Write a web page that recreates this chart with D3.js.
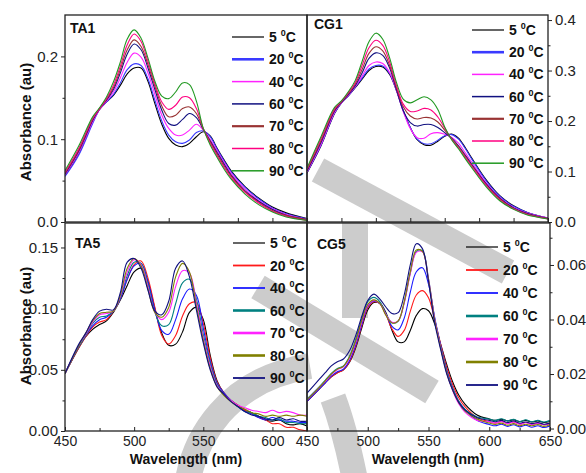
<!DOCTYPE html>
<html>
<head>
<script src="https://cdn.jsdelivr.net/npm/d3@7"></script>
<style>
  body { margin: 0; background: #fff; }
  svg { display: block; font-family: "Liberation Sans", Arial, sans-serif; }
</style>
</head>
<body>
<div id="container"></div>
<script>
// ---------- data ----------
const temps = ["5", "20", "40", "60", "70", "80", "90"];

const wlTop = [450,460,470,475,480,485,490,495,500,505,510,515,520,525,530,535,540,545,550,555,560,565,570,580,590,600,610,625];

const ta1Values = [
  [0.056,0.083,0.121,0.136,0.145,0.153,0.165,0.179,0.186,0.186,0.170,0.143,0.118,0.101,0.093,0.091,0.095,0.103,0.109,0.104,0.089,0.075,0.062,0.043,0.029,0.018,0.011,0.004],
  [0.055,0.081,0.119,0.136,0.145,0.154,0.168,0.184,0.191,0.189,0.173,0.147,0.122,0.105,0.097,0.095,0.099,0.108,0.110,0.103,0.088,0.074,0.061,0.042,0.028,0.017,0.010,0.004],
  [0.057,0.084,0.121,0.136,0.146,0.157,0.174,0.193,0.204,0.199,0.180,0.154,0.129,0.113,0.105,0.105,0.111,0.118,0.111,0.100,0.086,0.072,0.059,0.040,0.026,0.016,0.009,0.003],
  [0.058,0.086,0.123,0.137,0.147,0.160,0.180,0.203,0.215,0.208,0.186,0.160,0.135,0.119,0.117,0.124,0.131,0.126,0.112,0.098,0.084,0.070,0.057,0.038,0.025,0.015,0.008,0.003],
  [0.059,0.087,0.124,0.137,0.148,0.162,0.184,0.208,0.220,0.212,0.190,0.164,0.140,0.127,0.129,0.137,0.139,0.131,0.112,0.097,0.082,0.068,0.056,0.037,0.024,0.014,0.008,0.003],
  [0.060,0.089,0.125,0.137,0.149,0.165,0.188,0.214,0.227,0.218,0.194,0.167,0.145,0.136,0.141,0.151,0.150,0.137,0.113,0.095,0.080,0.066,0.054,0.036,0.023,0.013,0.007,0.002],
  [0.062,0.092,0.127,0.138,0.151,0.169,0.193,0.221,0.232,0.222,0.198,0.170,0.152,0.149,0.157,0.168,0.166,0.146,0.113,0.093,0.078,0.064,0.052,0.034,0.021,0.012,0.006,0.002]
];

const cg1Values = [
  [0.097,0.150,0.215,0.236,0.250,0.266,0.283,0.300,0.308,0.307,0.292,0.260,0.220,0.187,0.163,0.153,0.152,0.160,0.170,0.174,0.166,0.147,0.125,0.084,0.052,0.032,0.019,0.008],
  [0.098,0.151,0.216,0.236,0.250,0.267,0.285,0.303,0.310,0.309,0.294,0.261,0.220,0.187,0.164,0.155,0.155,0.162,0.171,0.173,0.164,0.145,0.123,0.082,0.051,0.031,0.019,0.008],
  [0.099,0.153,0.217,0.236,0.251,0.268,0.289,0.310,0.317,0.314,0.296,0.260,0.218,0.185,0.167,0.166,0.175,0.177,0.174,0.168,0.156,0.137,0.117,0.078,0.048,0.029,0.018,0.008],
  [0.101,0.157,0.220,0.237,0.252,0.270,0.295,0.324,0.335,0.330,0.305,0.262,0.220,0.197,0.190,0.193,0.193,0.187,0.177,0.166,0.151,0.132,0.113,0.076,0.047,0.028,0.017,0.007],
  [0.103,0.160,0.222,0.238,0.254,0.273,0.302,0.334,0.347,0.339,0.310,0.266,0.228,0.210,0.204,0.207,0.206,0.198,0.182,0.165,0.149,0.130,0.111,0.074,0.046,0.027,0.016,0.007],
  [0.105,0.164,0.224,0.239,0.256,0.276,0.310,0.345,0.360,0.350,0.317,0.270,0.233,0.219,0.220,0.225,0.222,0.208,0.186,0.164,0.147,0.128,0.109,0.073,0.044,0.026,0.015,0.006],
  [0.107,0.168,0.227,0.240,0.258,0.280,0.318,0.357,0.374,0.362,0.325,0.276,0.243,0.236,0.242,0.248,0.242,0.223,0.188,0.163,0.145,0.125,0.106,0.070,0.042,0.025,0.014,0.006]
];

const wlTA5 = [450,460,465,470,475,480,485,490,495,500,505,510,515,520,525,530,535,540,545,550,555,560,565,570,575,580,585,590,595,600,605,610,615,620,625];

const ta5Values = [
  [0.047,0.068,0.077,0.083,0.087,0.090,0.097,0.107,0.119,0.130,0.133,0.122,0.100,0.080,0.070,0.071,0.081,0.097,0.101,0.091,0.062,0.041,0.031,0.025,0.021,0.017,0.015,0.012,0.009,0.008,0.009,0.006,0.005,0.006,0.004],
  [0.047,0.068,0.077,0.085,0.089,0.091,0.098,0.108,0.124,0.136,0.139,0.125,0.101,0.078,0.071,0.078,0.094,0.104,0.105,0.088,0.060,0.040,0.031,0.025,0.021,0.017,0.014,0.011,0.009,0.006,0.006,0.003,0.003,0.001,0.000],
  [0.047,0.069,0.078,0.086,0.091,0.093,0.098,0.108,0.124,0.135,0.137,0.122,0.099,0.082,0.079,0.091,0.108,0.116,0.111,0.084,0.057,0.039,0.031,0.025,0.020,0.016,0.014,0.011,0.009,0.011,0.009,0.008,0.008,0.007,0.007],
  [0.047,0.069,0.078,0.088,0.093,0.094,0.098,0.109,0.127,0.138,0.137,0.120,0.097,0.086,0.087,0.104,0.121,0.124,0.108,0.079,0.055,0.038,0.030,0.025,0.020,0.016,0.015,0.012,0.011,0.009,0.010,0.007,0.007,0.006,0.006],
  [0.047,0.070,0.079,0.089,0.095,0.096,0.098,0.110,0.130,0.140,0.136,0.118,0.097,0.091,0.097,0.118,0.131,0.129,0.105,0.076,0.053,0.037,0.030,0.025,0.021,0.019,0.017,0.016,0.015,0.017,0.015,0.016,0.015,0.013,0.013],
  [0.047,0.070,0.080,0.090,0.096,0.097,0.098,0.111,0.133,0.141,0.135,0.116,0.097,0.093,0.101,0.126,0.137,0.130,0.102,0.074,0.051,0.036,0.029,0.024,0.020,0.018,0.015,0.014,0.012,0.013,0.012,0.013,0.012,0.013,0.012],
  [0.047,0.071,0.080,0.091,0.098,0.0995,0.099,0.113,0.138,0.141,0.133,0.115,0.098,0.095,0.106,0.133,0.139,0.126,0.099,0.072,0.050,0.036,0.030,0.024,0.020,0.016,0.013,0.012,0.010,0.009,0.011,0.009,0.010,0.008,0.008]
];

const wlCG5 = [450,460,465,470,475,480,485,490,495,500,505,510,515,520,525,530,535,540,545,550,555,560,565,570,575,580,590,600,605,610,615,620,625,630,635,640,645,650];

const cg5Values = [
  [0.0100,0.0145,0.0168,0.0190,0.0205,0.0215,0.0243,0.0295,0.0368,0.0435,0.0462,0.0460,0.0425,0.0360,0.0318,0.0318,0.0360,0.0415,0.0440,0.0432,0.0385,0.0310,0.0235,0.0170,0.0122,0.0090,0.0050,0.0035,0.0030,0.0034,0.0028,0.0032,0.0026,0.0030,0.0024,0.0028,0.0022,0.0026],
  [0.0100,0.0145,0.0168,0.0190,0.0205,0.0215,0.0245,0.0300,0.0375,0.0442,0.0465,0.0458,0.0418,0.0365,0.0338,0.0360,0.0430,0.0490,0.0506,0.0480,0.0400,0.0310,0.0225,0.0160,0.0112,0.0080,0.0040,0.0025,0.0020,0.0026,0.0018,0.0024,0.0016,0.0022,0.0016,0.0020,0.0014,0.0018],
  [0.0100,0.0145,0.0168,0.0192,0.0208,0.0218,0.0250,0.0305,0.0380,0.0448,0.0468,0.0458,0.0420,0.0375,0.0362,0.0405,0.0500,0.0575,0.0590,0.0530,0.0410,0.0305,0.0215,0.0148,0.0100,0.0070,0.0030,0.0015,0.0010,0.0016,0.0008,0.0014,0.0006,0.0012,0.0005,0.0010,0.0004,0.0010],
  [0.0108,0.0153,0.0177,0.0202,0.0220,0.0230,0.0265,0.0325,0.0400,0.0465,0.0481,0.0465,0.0420,0.0388,0.0393,0.0462,0.0570,0.0650,0.0652,0.0550,0.0405,0.0300,0.0210,0.0145,0.0098,0.0070,0.0042,0.0035,0.0030,0.0036,0.0028,0.0034,0.0026,0.0032,0.0025,0.0030,0.0024,0.0030],
  [0.0105,0.0150,0.0173,0.0198,0.0216,0.0226,0.0258,0.0315,0.0390,0.0452,0.0470,0.0458,0.0418,0.0390,0.0395,0.0460,0.0568,0.0646,0.0648,0.0548,0.0405,0.0298,0.0205,0.0138,0.0090,0.0060,0.0030,0.0025,0.0020,0.0026,0.0018,0.0024,0.0016,0.0022,0.0015,0.0020,0.0014,0.0018],
  [0.0105,0.0150,0.0175,0.0200,0.0218,0.0228,0.0262,0.0320,0.0395,0.0455,0.0472,0.0458,0.0415,0.0387,0.0395,0.0465,0.0575,0.0655,0.0650,0.0545,0.0400,0.0295,0.0205,0.0140,0.0095,0.0065,0.0035,0.0020,0.0015,0.0020,0.0012,0.0018,0.0010,0.0016,0.0010,0.0015,0.0008,0.0014],
  [0.0130,0.0180,0.0205,0.0230,0.0245,0.0255,0.0285,0.0340,0.0410,0.0470,0.0493,0.0475,0.0445,0.0422,0.0425,0.0490,0.0600,0.0678,0.0660,0.0540,0.0390,0.0290,0.0200,0.0140,0.0095,0.0068,0.0040,0.0030,0.0025,0.0030,0.0022,0.0028,0.0020,0.0024,0.0018,0.0022,0.0016,0.0020]
];

// ---------- styles ----------
const colorsTop = ["#000000", "#3a3aff", "#ff22ff", "#101080", "#993333", "#ff0080", "#229922"];
const colorsBottom = ["#000000", "#ff1a1a", "#1a1aff", "#008080", "#ff22ff", "#808000", "#101080"];
const legWTop = [1.2, 2.6, 1.5, 1.5, 2.2, 1.5, 1.5];
const legWBottom = [1.2, 1.8, 1.8, 2.6, 2.6, 2.6, 1.8];

const width = 586, height = 473;
const svg = d3.select("#container").append("svg").attr("width", width).attr("height", height);

// ---------- watermark (light grey strokes behind the plot) ----------
const wm = svg.append("g").attr("fill", "none").attr("stroke", "#cccccc").attr("stroke-width", 26);
wm.append("path").attr("d", "M318,170 L508,272");
wm.append("path").attr("d", "M258,287 L432,392");
wm.append("path").attr("d", "M355,222 L355,318");
wm.append("path").attr("d", "M188,480 C195,440 225,380 310,366");
wm.append("path").attr("d", "M333,398 Q345,430 355,480");

// ---------- panels ----------
const panels = [
  { name: "TA1", wl: wlTop, vals: ta1Values, colors: colorsTop, legW: legWTop,
    x0: 65, x1: 307, y0: 15, y1: 222, xdom: [450, 625], ydom: [0, 0.25],
    side: "left", yMajor: [0, 0.1, 0.2], yMinor: [0.05, 0.15], yFmt: ".1f",
    xMajor: [], xAll: [450, 475, 500, 525, 550, 575, 600, 625],
    lab: [70, 33], leg: [232, 37, 22.3] },
  { name: "CG1", wl: wlTop, vals: cg1Values, colors: colorsTop, legW: legWTop,
    x0: 307, x1: 548, y0: 15, y1: 222, xdom: [450, 625], ydom: [0, 0.41],
    side: "right", yMajor: [0, 0.1, 0.2, 0.3, 0.4], yMinor: [0.05, 0.15, 0.25, 0.35], yFmt: ".1f",
    xMajor: [], xAll: [450, 475, 500, 525, 550, 575, 600, 625],
    lab: [314, 29], leg: [472, 30, 22.2] },
  { name: "TA5", wl: wlTA5, vals: ta5Values, colors: colorsBottom, legW: legWBottom,
    x0: 65, x1: 307, y0: 223, y1: 431, xdom: [450, 625], ydom: [0, 0.17],
    side: "left", yMajor: [0, 0.05, 0.1, 0.15], yMinor: [0.025, 0.075, 0.125], yFmt: ".2f",
    xMajor: [450, 500, 550, 600], xAll: [450, 475, 500, 525, 550, 575, 600, 625],
    lab: [75, 248], leg: [233, 243, 22.5] },
  { name: "CG5", wl: wlCG5, vals: cg5Values, colors: colorsBottom, legW: legWBottom,
    x0: 307, x1: 550, y0: 223, y1: 431, xdom: [450, 650], ydom: [-0.0009, 0.0754],
    side: "right", yMajor: [0, 0.02, 0.04, 0.06], yMinor: [0.01, 0.03, 0.05, 0.07], yFmt: ".2f",
    xMajor: [450, 500, 550, 600, 650], xAll: [450, 475, 500, 525, 550, 575, 600, 625, 650],
    lab: [317, 249], leg: [466, 247, 23] }
];

panels.forEach(function(p, i) {
  const x = d3.scaleLinear().domain(p.xdom).range([p.x0, p.x1]);
  const y = d3.scaleLinear().domain(p.ydom).range([p.y1, p.y0]);
  const g = svg.append("g");

  g.append("clipPath").attr("id", "clip" + i)
    .append("rect").attr("x", p.x0).attr("y", p.y0).attr("width", p.x1 - p.x0).attr("height", p.y1 - p.y0);

  // curves
  const line = d3.line().curve(d3.curveCatmullRom.alpha(0.5));
  g.append("g").attr("clip-path", "url(#clip" + i + ")")
    .selectAll("path").data(p.vals).enter().append("path")
    .attr("fill", "none")
    .attr("stroke", (d, k) => p.colors[k])
    .attr("stroke-width", 1.1)
    .attr("d", d => line(d.map((v, j) => [x(p.wl[j]), y(v)])));

  // frame
  g.append("rect").attr("x", p.x0).attr("y", p.y0).attr("width", p.x1 - p.x0).attr("height", p.y1 - p.y0)
    .attr("fill", "none").attr("stroke", "#222").attr("stroke-width", 1.3);

  // x axis: inward ticks
  const xMinor = p.xAll.filter(v => p.xMajor.indexOf(v) < 0);
  const xa = g.append("g").attr("transform", "translate(0," + p.y1 + ")")
    .call(d3.axisBottom(x).tickValues(p.xMajor.length ? p.xMajor : p.xAll).tickSizeInner(-4).tickSizeOuter(0).tickPadding(5)
      .tickFormat(p.xMajor.length ? d3.format("d") : ""));
  const xm = g.append("g").attr("transform", "translate(0," + p.y1 + ")")
    .call(d3.axisBottom(x).tickValues(p.xMajor.length ? xMinor : []).tickSizeInner(-3).tickSizeOuter(0).tickFormat(""));
  [xa, xm].forEach(a => {
    a.select(".domain").remove();
    a.selectAll("line").attr("stroke", "#222");
    a.selectAll("text").attr("font-size", 14).attr("fill", "#222").attr("font-family", "Liberation Sans, Arial, sans-serif");
  });

  // y axis: outward ticks
  const axisFn = p.side === "left" ? d3.axisLeft : d3.axisRight;
  const ax = p.side === "left" ? p.x0 : p.x1;
  const ya = g.append("g").attr("transform", "translate(" + ax + ",0)")
    .call(axisFn(y).tickValues(p.yMajor).tickSizeInner(4).tickSizeOuter(0).tickPadding(3).tickFormat(d3.format(p.yFmt)));
  const ym = g.append("g").attr("transform", "translate(" + ax + ",0)")
    .call(axisFn(y).tickValues(p.yMinor).tickSizeInner(2.5).tickSizeOuter(0).tickFormat(""));
  [ya, ym].forEach(a => {
    a.select(".domain").remove();
    a.selectAll("line").attr("stroke", "#222");
    a.selectAll("text").attr("font-size", 15).attr("fill", "#222").attr("font-family", "Liberation Sans, Arial, sans-serif");
  });

  // panel name
  g.append("text").attr("x", p.lab[0]).attr("y", p.lab[1])
    .attr("font-size", 14).attr("font-weight", "bold").attr("fill", "#111").text(p.name);

  // legend
  const lg = g.append("g").selectAll("g").data(temps).enter().append("g")
    .attr("transform", (d, k) => "translate(" + p.leg[0] + "," + (p.leg[1] + k * p.leg[2]) + ")");
  lg.append("line").attr("x1", 0).attr("x2", 32).attr("y1", 0).attr("y2", 0)
    .attr("stroke", (d, k) => p.colors[k]).attr("stroke-width", (d, k) => p.legW[k]);
  const t = lg.append("text").attr("x", 37).attr("y", 5)
    .attr("font-size", 14).attr("font-weight", "bold").attr("fill", "#111");
  t.append("tspan").text(d => d + " ");
  t.append("tspan").attr("font-size", 9).attr("dy", -6).text("0");
  t.append("tspan").attr("dy", 6).text("C");
});

// axis titles
svg.append("text").attr("transform", "translate(31,122) rotate(-90)").attr("text-anchor", "middle")
  .attr("font-size", 15).attr("font-weight", "bold").attr("fill", "#111").text("Absorbance (au)");
svg.append("text").attr("transform", "translate(31,326) rotate(-90)").attr("text-anchor", "middle")
  .attr("font-size", 15).attr("font-weight", "bold").attr("fill", "#111").text("Absorbance (au)");
svg.append("text").attr("x", 186).attr("y", 464).attr("text-anchor", "middle")
  .attr("font-size", 14).attr("font-weight", "bold").attr("fill", "#111").text("Wavelength (nm)");
svg.append("text").attr("x", 428).attr("y", 464).attr("text-anchor", "middle")
  .attr("font-size", 14).attr("font-weight", "bold").attr("fill", "#111").text("Wavelength (nm)");
</script>
</body>
</html>
